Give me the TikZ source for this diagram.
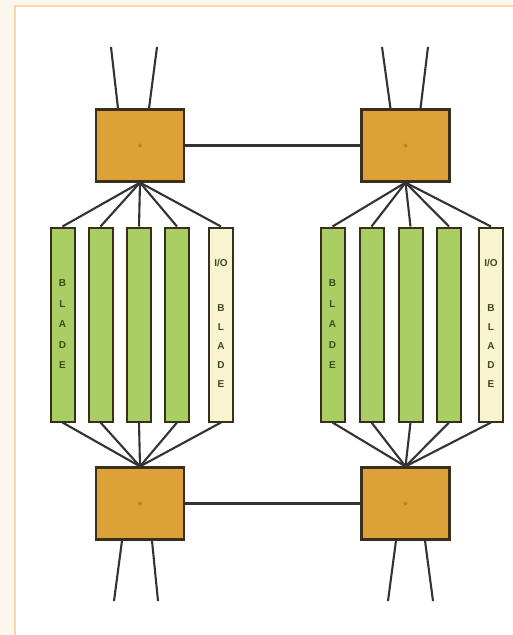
\documentclass[tikz,border=0pt]{standalone}
\usepackage{fontspec}
\setmainfont{Liberation Sans}
\begin{document}
\begin{tikzpicture}[x=1pt,y=-1pt,
  sw/.style={draw=swedge,line width=2.2pt,fill=swfill,minimum width=88pt,minimum height=72pt,inner sep=0pt},
  bl/.style={draw=swedge,line width=2pt,fill=bladefill,minimum width=24pt,minimum height=194pt,inner sep=0pt},
  io/.style={bl,fill=iofill},
  wire/.style={draw=wirec,line width=2.1pt},
  lbl/.style={text=txtc,font=\bfseries\fontsize{10}{11}\selectfont,align=center,inner sep=0pt},
  dotc/.style={circle,fill=dotcol,minimum size=4pt,inner sep=0pt}]
\definecolor{swfill}{HTML}{DCA137}
\definecolor{swedge}{HTML}{3A2E1C}
\definecolor{bladefill}{HTML}{A9CF64}
\definecolor{iofill}{HTML}{F7F4CF}
\definecolor{wirec}{HTML}{333333}
\definecolor{txtc}{HTML}{3E4A1E}
\definecolor{dotcol}{HTML}{C4821E}
\definecolor{outer}{HTML}{FCF6EC}
\definecolor{frame}{HTML}{F6D9A6}
\useasboundingbox (0,0) rectangle (512,635);
\fill[outer] (0,0) rectangle (512,635);
\fill[white] (15,6) rectangle (514,637);
\draw[frame,line width=2pt] (15,640) -- (15,6) -- (515,6);
% switches
\node[sw] (tl) at (140,145.5) {};
\node[sw] (tr) at (405.5,145.5) {};
\node[sw] (bl) at (140,503.5) {};
\node[sw] (br) at (405.5,503.5) {};
\foreach \n in {tl,tr,bl,br} \node[dotc] at (\n.center) {};
% blades left
\node[bl] (l1) at (62.5,324.5) {};
\node[bl] (l2) at (100.5,324.5) {};
\node[bl] (l3) at (139,324.5) {};
\node[bl] (l4) at (177,324.5) {};
\node[io] (l5) at (221,324.5) {};
% blades right
\node[bl] (r1) at (332.5,324.5) {};
\node[bl] (r2) at (371.5,324.5) {};
\node[bl] (r3) at (410.5,324.5) {};
\node[bl] (r4) at (449,324.5) {};
\node[io] (r5) at (491,324.5) {};
% labels
\foreach \b in {l1,r1}
  \node[lbl] at (\b.center) {B\\[9.5pt]L\\[9.5pt]A\\[9.5pt]D\\[9.5pt]E};
\foreach \b in {l5,r5}{
  \node[lbl] at ([yshift=-36pt]\b.north) {I/O};
  \node[lbl] at ([yshift=-22pt]\b.center) {B\\[8pt]L\\[8pt]A\\[8pt]D\\[8pt]E};
}
% wires
\draw[wire] (tl.east) -- (tr.west);
\draw[wire] (bl.east) -- (br.west);
\foreach \i in {1,...,5}{
  \draw[wire] (tl.south) -- (l\i.north);
  \draw[wire] (bl.north) -- (l\i.south);
  \draw[wire] (tr.south) -- (r\i.north);
  \draw[wire] (br.north) -- (r\i.south);
}
\coordinate (a1) at (111,47); \coordinate (a2) at (157,47);
\coordinate (a3) at (382,47); \coordinate (a4) at (428,47);
\coordinate (b1) at (114,601); \coordinate (b2) at (158,601);
\coordinate (b3) at (388,601); \coordinate (b4) at (433,601);
\draw[wire] (a1) -- ([xshift=-22pt]tl.north);
\draw[wire] (a2) -- ([xshift=9pt]tl.north);
\draw[wire] (a3) -- ([xshift=-15pt]tr.north);
\draw[wire] (a4) -- ([xshift=15pt]tr.north);
\draw[wire] (b1) -- ([xshift=-18pt]bl.south);
\draw[wire] (b2) -- ([xshift=12pt]bl.south);
\draw[wire] (b3) -- ([xshift=-9.5pt]br.south);
\draw[wire] (b4) -- ([xshift=19.5pt]br.south);
\end{tikzpicture}
\end{document}
